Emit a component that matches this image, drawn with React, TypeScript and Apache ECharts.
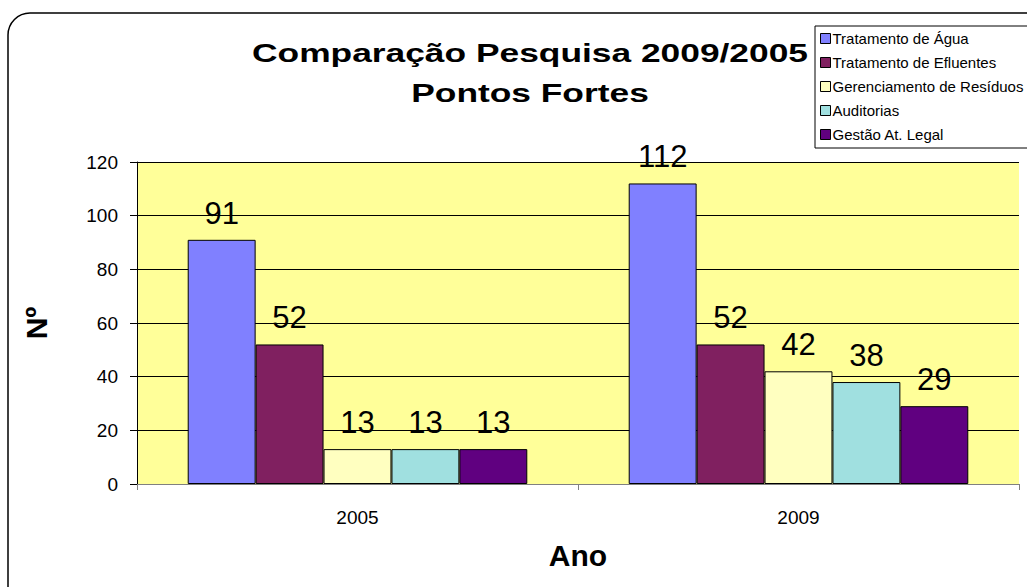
import React, { useEffect, useRef } from "react";
import * as echarts from "echarts";

const categories = ["2005", "2009"];
const seriesNames = [
  "Tratamento de Água",
  "Tratamento de Efluentes",
  "Gerenciamento de Resíduos",
  "Auditorias",
  "Gestão At. Legal",
];
const aguaValues = [91, 112];
const efluentesValues = [52, 52];
const residuosValues = [13, 42];
const auditoriasValues = [13, 38];
const legalValues = [13, 29];
const colors = ["#8080FF", "#802060", "#FFFFC0", "#A0E0E0", "#600080"];
const titleLines = ["Comparação Pesquisa 2009/2005", "Pontos Fortes"];

const FONT = "'Liberation Sans', Arial, sans-serif";

export default function App() {
  const ref = useRef<HTMLDivElement>(null);
  useEffect(() => {
    if (!ref.current) return;
    const chart = echarts.init(ref.current, undefined, { renderer: "svg" });
    const allValues = [aguaValues, efluentesValues, residuosValues, auditoriasValues, legalValues];
    chart.setOption({
      animation: false,
      backgroundColor: "#ffffff",
      textStyle: { fontFamily: FONT, color: "#000" },
      legend: {
        orient: "vertical",
        left: 820,
        top: 31,
        padding: 0,
        itemWidth: 10,
        itemHeight: 10,
        itemGap: 9,
        icon: "rect",
        data: seriesNames,
        itemStyle: { borderColor: "#000", borderWidth: 1 },
        textStyle: { fontFamily: FONT, fontSize: 15, color: "#000", lineHeight: 15, padding: [0, 0, 0, -3] },
      },
      graphic: [
        {
          type: "rect",
          shape: { x: 8, y: 13, width: 1100, height: 700, r: 22 },
          style: { fill: "none", stroke: "#000", lineWidth: 1.5 },
          silent: true,
          z: 10,
        },
        {
          type: "rect",
          shape: { x: 815, y: 26, width: 240, height: 122 },
          style: { fill: "none", stroke: "#000", lineWidth: 1 },
          silent: true,
          z: 10,
        },
        {
          type: "text",
          x: 530,
          y: 53,
          scaleX: 1.36,
          style: {
            text: titleLines[0],
            x: 0,
            y: 0,
            align: "center",
            verticalAlign: "middle",
            font: "bold 26px 'Liberation Sans', Arial, sans-serif",
            fill: "#000",
          },
          silent: true,
        },
        {
          type: "text",
          x: 530,
          y: 93,
          scaleX: 1.36,
          style: {
            text: titleLines[1],
            x: 0,
            y: 0,
            align: "center",
            verticalAlign: "middle",
            font: "bold 26px 'Liberation Sans', Arial, sans-serif",
            fill: "#000",
          },
          silent: true,
        },
      ],
      grid: { left: 137, right: 8, top: 162, bottom: 103, backgroundColor: "#FFFF99", show: true, borderWidth: 0 },
      xAxis: {
        type: "category",
        data: categories,
        name: "Ano",
        nameLocation: "middle",
        nameGap: 56,
        nameTextStyle: { fontFamily: FONT, fontSize: 30, fontWeight: "bold", color: "#000", verticalAlign: "top" },
        axisLine: { lineStyle: { color: "#808080", width: 1 } },
        axisTick: { show: true, length: 6, lineStyle: { color: "#808080" } },
        axisLabel: { fontFamily: FONT, fontSize: 19, color: "#000", margin: 24 },
      },
      yAxis: {
        type: "value",
        min: 0,
        max: 120,
        interval: 20,
        name: "Nº",
        nameLocation: "middle",
        nameGap: 86,
        nameTextStyle: { fontFamily: FONT, fontSize: 30, fontWeight: "bold", color: "#000" },
        axisLine: { show: true, lineStyle: { color: "#000", width: 1 } },
        axisTick: { show: true, length: 7, lineStyle: { color: "#000" } },
        axisLabel: { fontFamily: FONT, fontSize: 19, color: "#000", margin: 19 },
        splitLine: { show: true, lineStyle: { color: "#000", width: 1 } },
      },
      series: seriesNames.map((name, i) => ({
        name,
        type: "bar",
        data: allValues[i],
        barGap: "0%",
        barCategoryGap: "23%",
        itemStyle: { color: colors[i], borderColor: "#000", borderWidth: 1 },
        label: {
          show: true,
          position: "top",
          distance: 11,
          fontFamily: FONT,
          fontSize: 31,
          color: "#000",
        },
      })),
    });
    return () => chart.dispose();
  }, []);
  return (
    <div
      ref={ref}
      style={{ position: "absolute", left: 0, top: 0, width: 1027, height: 587 }}
    />
  );
}
